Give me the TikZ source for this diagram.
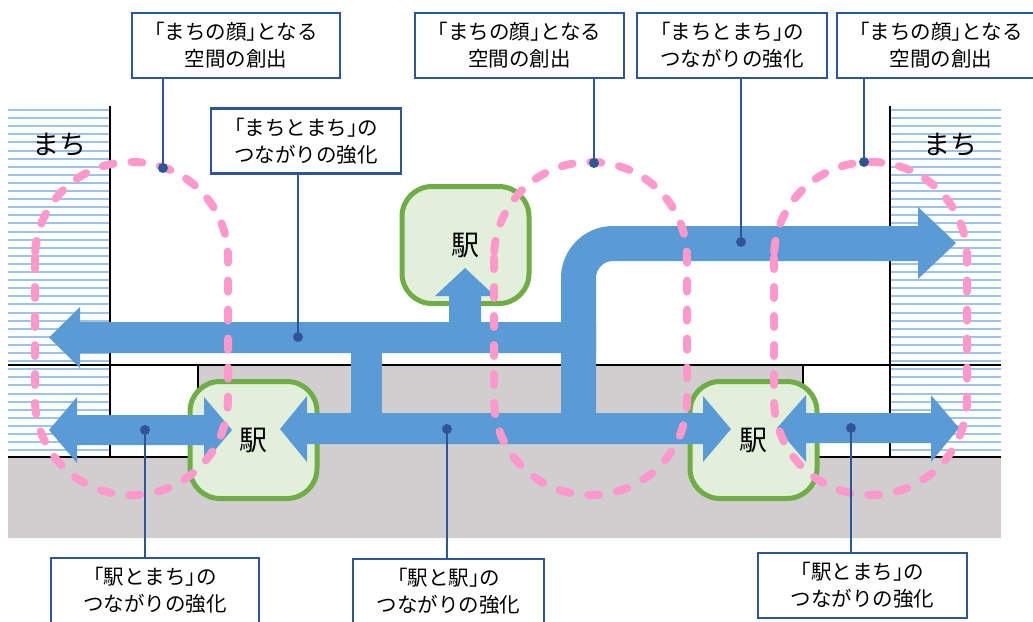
\documentclass[tikz,border=0pt]{standalone}
\usepackage{fontspec}
\newfontfamily\jp[RawFeature=+halt]{Noto Sans CJK JP}
\definecolor{flowblue}{HTML}{5B9BD5}
\definecolor{hatchblue}{HTML}{9DC3E6}
\definecolor{groundgray}{HTML}{D0CECE}
\definecolor{zonepink}{HTML}{FF99CC}
\definecolor{stfill}{HTML}{E2EFDA}
\definecolor{stdraw}{HTML}{70AD47}
\definecolor{callblue}{HTML}{2F5597}
\begin{document}
\begin{tikzpicture}[x=1pt,y=-1pt,
  flow/.style={fill=flowblue},
  hatchline/.style={draw=hatchblue,line width=2pt},
  edge/.style={draw=black,line width=2.6pt},
  zone/.style={draw=zonepink,line width=8pt,dash pattern=on 11pt off 18pt,line cap=round,rounded corners=96pt},
  station/.style={draw=stdraw,fill=stfill,line width=5pt,rounded corners=30pt,minimum width=127pt,minimum height=117pt,inner sep=0pt,font=\jp\fontsize{28}{28}\selectfont},
  machi/.style={inner sep=0pt,font=\jp\fontsize{27}{27}\selectfont},
  callbox/.style={draw=callblue,line width=2.6pt,fill=white,minimum height=65pt,inner sep=0pt,align=center,font=\jp\fontsize{20.5}{27}\selectfont},
  callline/.style={draw=callblue,line width=2.4pt},
  calldot/.style={circle,fill=callblue,minimum size=10pt,inner sep=0pt}]
\useasboundingbox (0,0) rectangle (1033,621);
% ground
\fill[groundgray] (8,457) -- (198,457) -- (198,365) -- (803,365) -- (803,457) -- (1001,457) -- (1001,538) -- (8,538) -- cycle;
% hatched town blocks
\foreach \i in {0,...,42} {
  \draw[hatchline] (8,110+8.1*\i) -- (110,110+8.1*\i);
  \draw[hatchline] (890,110+8.1*\i) -- (1001,110+8.1*\i);
}
% black boundary lines
\draw[edge] (8,365) -- (1001,365);
\draw[edge] (110,106) -- (110,457);
\draw[edge] (890,106) -- (890,457);
\draw[edge] (8,457) -- (198,457) -- (198,365);
\draw[edge] (803,365) -- (803,457) -- (1001,457);
% town labels
\node[machi] (m1) at (59,145) {まち};
\node[machi] (m2) at (950,145) {まち};
% stations
\node[station] (s1) at (253.5,440) {駅};
\node[station] (s2) at (465.5,245) {駅};
\node[station] (s3) at (753.5,440) {駅};
% flows
\fill[flow] (596,322) -- (80,322) -- (80,307) -- (49,337.5) -- (80,368) -- (80,353) -- (596,353) -- cycle;
\fill[flow] (351,352) rectangle (382,414);
\fill[flow] (449,323) -- (449,296) -- (435,296) -- (465,268) -- (495,296) -- (481,296) -- (481,323) -- cycle;
\fill[flow] (280,429) -- (307,396) -- (307,413) -- (703,413) -- (703,396) -- (731,429) -- (703,462) -- (703,444) -- (307,444) -- (307,462) -- cycle;
\fill[flow] (49,430) -- (77,397) -- (77,415) -- (204,415) -- (204,397) -- (232,430) -- (204,463) -- (204,445) -- (77,445) -- (77,463) -- cycle;
\fill[flow] (777,428) -- (806,395) -- (806,413) -- (931,413) -- (931,395) -- (959,428) -- (931,462) -- (931,443) -- (806,443) -- (806,462) -- cycle;
\fill[flow] (561,414) -- (561,278) .. controls (561,249.3) and (584.3,226) .. (613,226) -- (918,226) -- (918,207) -- (956,243) -- (918,279) -- (918,261) -- (613,261) .. controls (603.6,261) and (596,268.6) .. (596,278) -- (596,414) -- cycle;
% zones
\draw[zone] (35,162) rectangle (228,495);
\draw[zone] (494,162) rectangle (687,495);
\draw[zone] (774,162) rectangle (967,495);
% callout boxes
\node[callbox,minimum width=208pt] (t1) at (236,45.5) {「まちの顔」となる\\空間の創出};
\node[callbox,minimum width=190pt] (t2) at (306,141) {「まちとまち」の\\つながりの強化};
\node[callbox,minimum width=209pt] (t3) at (519.5,45.5) {「まちの顔」となる\\空間の創出};
\node[callbox,minimum width=190pt] (t4) at (732,45.5) {「まちとまち」の\\つながりの強化};
\node[callbox,minimum width=208pt] (t5) at (941,45.5) {「まちの顔」となる\\空間の創出};
\node[callbox,minimum width=208pt] (b1) at (155,590.5) {「駅とまち」の\\つながりの強化};
\node[callbox,minimum width=191pt] (b2) at (448.5,591.5) {「駅と駅」の\\つながりの強化};
\node[callbox,minimum width=209pt] (b3) at (862.5,585.5) {「駅とまち」の\\つながりの強化};
% dots
\node[calldot] (d1) at (163,168) {};
\node[calldot] (d2) at (298,337) {};
\node[calldot] (d3) at (594,163) {};
\node[calldot] (d4) at (741,242) {};
\node[calldot] (d5) at (864,162) {};
\node[calldot] (e1) at (145,430) {};
\node[calldot] (e2) at (447,429) {};
\node[calldot] (e3) at (851,428) {};
% callout lines
\draw[callline] (t1.south -| d1) -- (d1.center);
\draw[callline] (t2.south -| d2) -- (d2.center);
\draw[callline] (t3.south -| d3) -- (d3.center);
\draw[callline] (t4.south -| d4) -- (d4.center);
\draw[callline] (t5.south -| d5) -- (d5.center);
\draw[callline] (b1.north -| e1) -- (e1.center);
\draw[callline] (b2.north -| e2) -- (e2.center);
\draw[callline] (b3.north -| e3) -- (e3.center);
\end{tikzpicture}
\end{document}
